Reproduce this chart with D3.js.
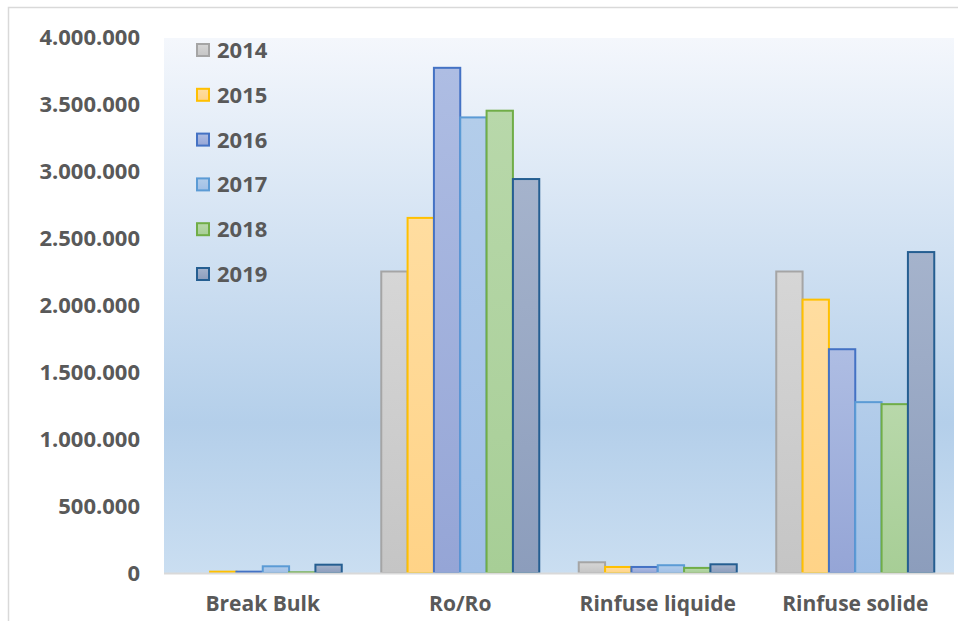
<!DOCTYPE html>
<html>
<head>
<meta charset="utf-8">
<script src="https://cdn.jsdelivr.net/npm/d3@7"></script>
<style>
html,body{margin:0;padding:0;background:#fff;}
svg{display:block;}
text{font-family:"Open Sans",sans-serif;font-weight:700;fill:#595959;}
</style>
</head>
<body>
<script>
const categories = ["Break Bulk", "Ro/Ro", "Rinfuse liquide", "Rinfuse solide"];
const years = ["2014", "2015", "2016", "2017", "2018", "2019"];
const values2014 = [0, 2250000, 80000, 2250000];
const values2015 = [10000, 2650000, 45000, 2040000];
const values2016 = [10000, 3770000, 45000, 1670000];
const values2017 = [50000, 3400000, 58000, 1275000];
const values2018 = [5000, 3450000, 38000, 1260000];
const values2019 = [62000, 2940000, 65000, 2395000];
const yTicks = [0, 500000, 1000000, 1500000, 2000000, 2500000, 3000000, 3500000, 4000000];

const seriesValues = [values2014, values2015, values2016, values2017, values2018, values2019];
const fillTop = ["#d6d6d6", "#ffdda0", "#aebde3", "#b3cdea", "#b8d8aa", "#a5b3cc"];
const fillBottom = ["#c5c5c5", "#ffd387", "#95a5d6", "#a0bfe6", "#a7ce96", "#8c9dbc"];
const strokes = ["#a5a5a5", "#ffc000", "#4472c4", "#5b9bd5", "#70ad47", "#255e91"];

(function () {
const W = 958, H = 621;
const svg = d3.select("body").append("svg").attr("width", W).attr("height", H);
const defs = svg.append("defs");

const bg = defs.append("linearGradient").attr("id", "bg").attr("x1", 0).attr("y1", 0).attr("x2", 0).attr("y2", 1);
bg.append("stop").attr("offset", 0).attr("stop-color", "#f4f7fc");
bg.append("stop").attr("offset", 0.72).attr("stop-color", "#b4cfea");
bg.append("stop").attr("offset", 1).attr("stop-color", "#cadef1");

years.forEach((yr, i) => {
  const g = defs.append("linearGradient").attr("id", "g" + yr).attr("x1", 0).attr("y1", 0).attr("x2", 0).attr("y2", 1);
  g.append("stop").attr("offset", 0).attr("stop-color", fillTop[i]);
  g.append("stop").attr("offset", 1).attr("stop-color", fillBottom[i]);
});

// chart border (top/left visible)
svg.append("rect").attr("x", 8.5).attr("y", 7.5).attr("width", 1000).attr("height", 700)
  .attr("fill", "none").attr("stroke", "#d9d9d9").attr("stroke-width", 1.5);

const pLeft = 164, pRight = 954, pTop = 37, pBottom = 573;
const y = d3.scaleLinear().domain([0, 4000000]).range([pBottom, pTop]);
const x = d3.scaleBand().domain(categories).range([pLeft, pRight]).padding(0);
const x1 = d3.scaleBand().domain(years).range([0, x.bandwidth()]).paddingInner(0).paddingOuter(0.75);

svg.append("rect").attr("x", pLeft).attr("y", pTop + 1).attr("width", pRight - pLeft).attr("height", pBottom - pTop - 1)
  .attr("fill", "url(#bg)");

// bars
years.forEach((yr, i) => {
  svg.append("g").selectAll("rect")
    .data(categories.map((c, j) => ({c, v: seriesValues[i][j]})))
    .join("rect")
    .attr("x", d => x(d.c) + x1(yr))
    .attr("y", d => y(d.v))
    .attr("width", x1.bandwidth())
    .attr("height", d => pBottom - y(d.v))
    .attr("fill", "url(#g" + yr + ")")
    .attr("stroke", d => d.v > 0 ? strokes[i] : "none")
    .attr("stroke-width", 2);
});

// x axis line
svg.append("line").attr("x1", pLeft).attr("x2", pRight).attr("y1", pBottom + 0.5).attr("y2", pBottom + 0.5)
  .attr("stroke", "#d9d9d9").attr("stroke-width", 2);

// y axis labels
const fmt = v => d3.format(",")(v).replace(/,/g, ".");
const yAxis = d3.axisLeft(y).tickValues(yTicks).tickFormat(fmt).tickSize(0).tickPadding(0);
const ya = svg.append("g").attr("transform", "translate(140,0)").call(yAxis);
ya.select(".domain").remove();
ya.selectAll("text").attr("font-size", 22).attr("font-family", "Open Sans").attr("font-weight", 700)
  .attr("fill", "#595959").attr("dy", "0.36em");

// x axis labels
const xAxis = d3.axisBottom(x).tickSize(0).tickPadding(0);
const xa = svg.append("g").attr("transform", "translate(0," + pBottom + ")").call(xAxis);
xa.select(".domain").remove();
xa.selectAll("text").attr("font-size", 21).attr("font-family", "Open Sans").attr("font-weight", 700)
  .attr("fill", "#595959").attr("dy", null).attr("y", 38);

// legend
const legend = svg.append("g");
years.forEach((yr, i) => {
  const cy = 50 + i * 44.8;
  legend.append("rect").attr("x", 197).attr("y", cy - 6).attr("width", 12).attr("height", 12)
    .attr("fill", "url(#g" + yr + ")").attr("stroke", strokes[i]).attr("stroke-width", 2);
  legend.append("text").attr("x", 217).attr("y", cy).attr("dy", "0.36em").attr("font-size", 22).text(yr);
});
})();
</script>
</body>
</html>
